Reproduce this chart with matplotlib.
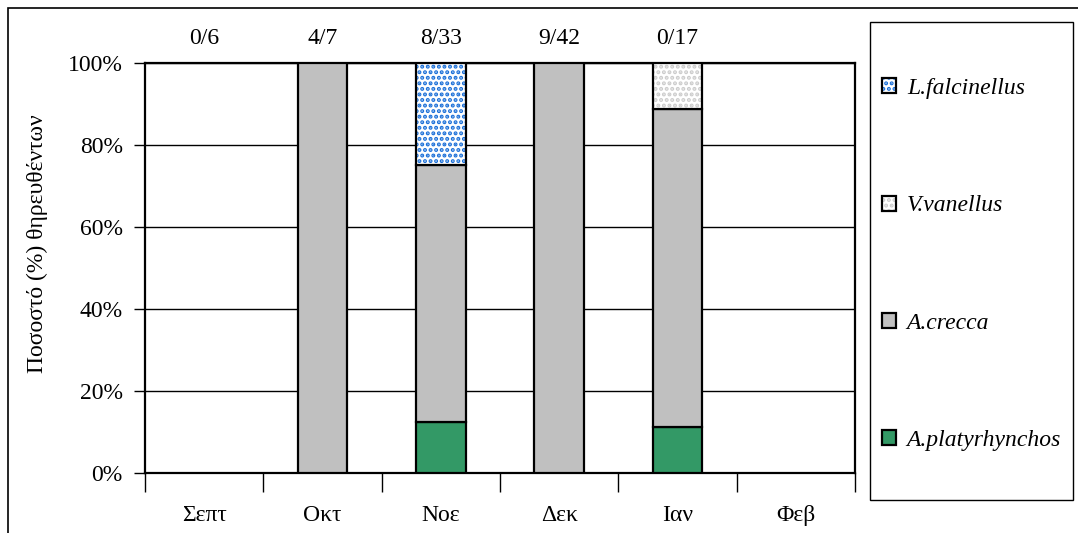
import matplotlib.pyplot as plt
import matplotlib.patches as mpatches
import numpy as np

# δεδομένα
months = ['Σεπτ', 'Οκτ', 'Νοε', 'Δεκ', 'Ιαν', 'Φεβ']
platy = [0, 0, 12.5, 0, 11.1, 0]
crecca = [0, 100, 62.5, 100, 77.8, 0]
vanellus = [0, 0, 0, 0, 11.1, 0]
falc = [0, 0, 25, 0, 0, 0]
counts = ['0/6', '4/7', '8/33', '9/42', '0/17', '']

plt.rcParams['font.family'] = ['Liberation Serif', 'DejaVu Serif']
plt.rcParams['hatch.linewidth'] = 2.0

fig = plt.figure(figsize=(10.78, 5.33), dpi=100)
ax = fig.add_axes([0.1345, 0.1126, 0.6585, 0.7692])

x = np.arange(len(months))
w = 0.42
fs = 17
blue = '#1a6fd8'
lgrey = '#cccccc'


def draw(vals, bottom, color, hatch=None, hcolor=None):
    for xi, v, b in zip(x, vals, bottom):
        if v <= 0:
            continue
        if hatch:
            ax.bar(xi, v, w, bottom=b, color='white', edgecolor=hcolor,
                   hatch=hatch, linewidth=0, zorder=3)
            ax.bar(xi, v, w, bottom=b, fill=False, edgecolor='black',
                   linewidth=1.6, zorder=4)
        else:
            ax.bar(xi, v, w, bottom=b, color=color, edgecolor='black',
                   linewidth=1.6, zorder=3)


b0 = np.zeros(len(months))
draw(platy, b0, '#339966')
b1 = b0 + np.array(platy)
draw(crecca, b1, '#c0c0c0')
b2 = b1 + np.array(crecca)
draw(vanellus, b2, None, hatch='...', hcolor=lgrey)
b3 = b2 + np.array(vanellus)
draw(falc, b3, None, hatch='...', hcolor=blue)

ax.set_xlim(-0.5, len(months) - 0.5)
ax.set_ylim(0, 100)
ax.set_yticks(np.arange(0, 101, 20))
ax.set_yticklabels([f'{v}%' for v in range(0, 101, 20)], fontsize=fs)
ax.yaxis.grid(True, color='black', linewidth=1.0)
ax.set_axisbelow(True)

ax.set_xticks(x)
ax.set_xticklabels(months, fontsize=fs)
ax.tick_params(axis='x', which='major', length=0, pad=23)
ax.set_xticks(np.arange(-0.5, len(months)), minor=True)
ax.tick_params(axis='x', which='minor', length=14, width=1.0, direction='out')
ax.tick_params(axis='y', length=8, width=1.0, direction='out', pad=8)
for s in ax.spines.values():
    s.set_linewidth(1.6)

ax.set_ylabel('Ποσοστό (%) θηρευθέντων', fontsize=fs)
ax.yaxis.set_label_coords(-0.137, 0.56)

for xi, c in zip(x, counts):
    ax.text(xi, 106, c, ha='center', va='center', fontsize=fs)


# λεζάντα
def boxed(**kw):
    inner = mpatches.Patch(linewidth=0, **kw)
    border = mpatches.Patch(fill=False, edgecolor='black', linewidth=1.6)
    return (inner, border)


handles = [
    boxed(facecolor='white', edgecolor=blue, hatch='...'),
    boxed(facecolor='white', edgecolor=lgrey, hatch='...'),
    boxed(facecolor='#c0c0c0'),
    boxed(facecolor='#339966'),
]
labels = ['L.falcinellus', 'V.vanellus', 'A.crecca', 'A.platyrhynchos']
fig.patches.append(mpatches.Rectangle((870 / 1078, 33 / 533), 203 / 1078, 478 / 533,
                                      transform=fig.transFigure, fill=False,
                                      edgecolor='black', linewidth=1.0))
leg = fig.legend(handles, labels, loc='upper left', bbox_to_anchor=(882 / 1078, (533 - 78) / 533),
                 prop={'style': 'italic', 'size': fs}, labelspacing=4.08,
                 handlelength=0.6, handleheight=0.6, handletextpad=0.45,
                 borderpad=0, borderaxespad=0, frameon=False)

# περίγραμμα
fig.patches.append(mpatches.Rectangle((0.0074, -0.05), 1.1, 1.035,
                                      transform=fig.transFigure, fill=False,
                                      edgecolor='black', linewidth=1.2))

fig.savefig('out.png', dpi=100)
